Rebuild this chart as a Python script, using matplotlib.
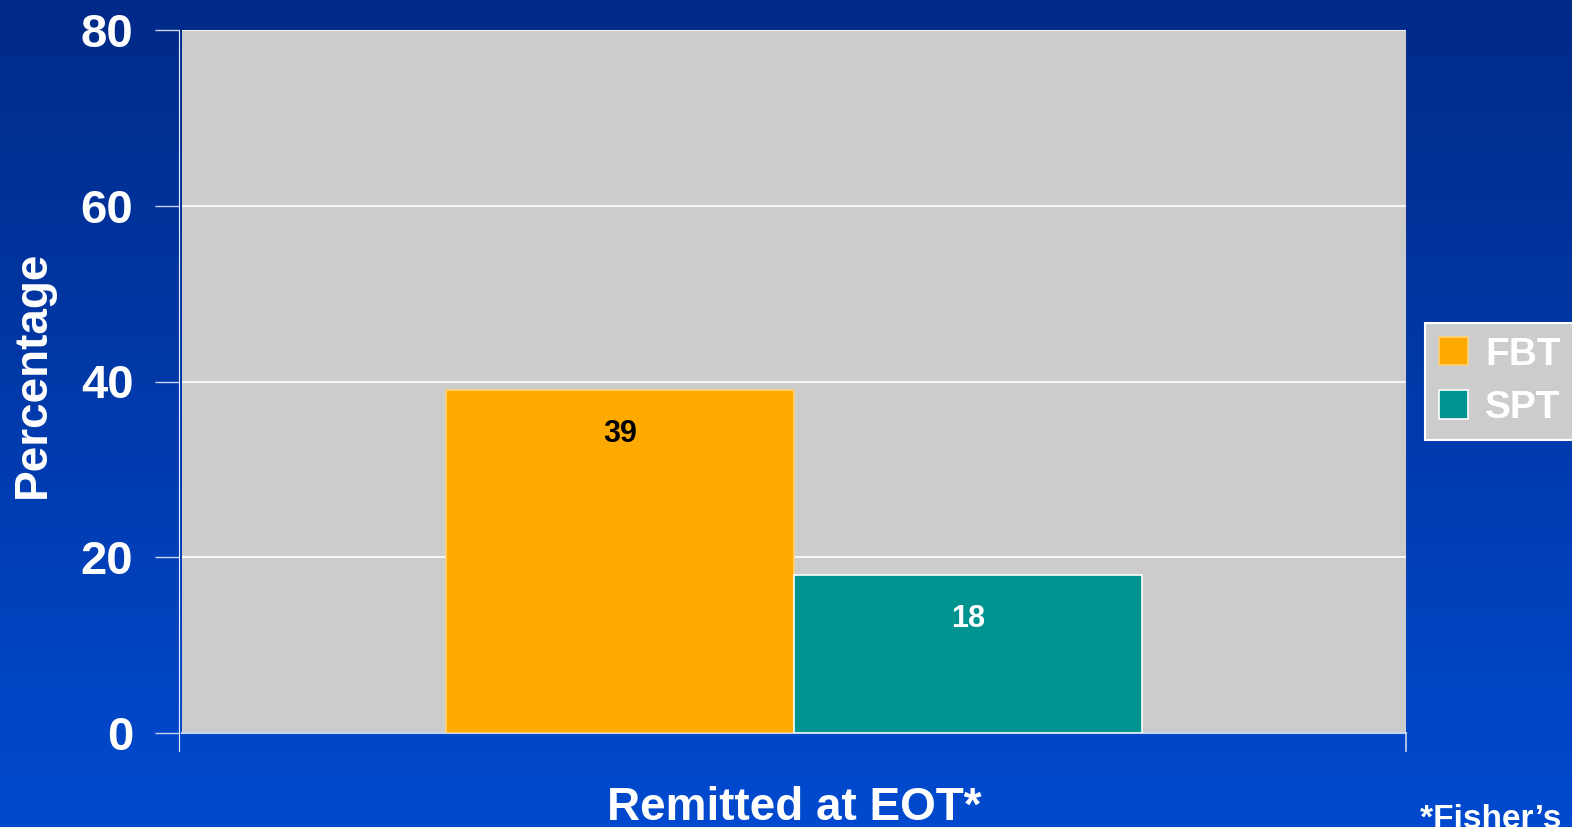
import matplotlib.pyplot as plt
import numpy as np

plt.rcParams['font.family'] = ['Liberation Sans', 'DejaVu Sans']
plt.rcParams['font.weight'] = 'bold'
plt.rcParams['axes.labelweight'] = 'bold'

category = 'Remitted at EOT*'
groups = ['FBT', 'SPT']
values = [39, 18]
colors = ['#ffaa00', '#009490']
edges = ['#ffd27a', '#ffffff']
label_colors = ['black', 'white']
yticks = [0, 20, 40, 60, 80]

fig = plt.figure(figsize=(15.72, 8.27), dpi=100)

# blue gradient backdrop
bg = fig.add_axes([0, 0, 1, 1], zorder=-10)
top = np.array([0x00, 0x2a, 0x88]) / 255
bottom = np.array([0x00, 0x4a, 0xcf]) / 255
t = np.linspace(0, 1, 256)[:, None]
grad = top * (1 - t) + bottom * t
bg.imshow(grad[:, None, :], aspect='auto', extent=[0, 1, 0, 1])
bg.axis('off')

ax = fig.add_axes([182 / 1572, 1 - 733 / 827, 1224 / 1572, 703 / 827])
ax.set_facecolor('#cccccc')

w = 0.284
pos = [-w / 2, w / 2]
for p, v, c, e, g in zip(pos, values, colors, edges, groups):
    ax.bar(p, v, width=w, color=c, edgecolor=e, linewidth=1.2, label=g, zorder=3)

for p, v, lc in zip(pos, values, label_colors):
    ax.text(p, v - 5, str(v), ha='center', va='center', fontsize=22,
            fontweight='bold', color=lc, zorder=4)

ax.set_xlim(-0.5, 0.5)
ax.set_ylim(0, 80)
ax.set_yticks(yticks)
ax.set_xticks([])
ax.yaxis.grid(True, color='white', linewidth=1.2, zorder=0)
ax.set_axisbelow(True)
ax.tick_params(axis='y', length=17, width=1, color='#c8d4f0', pad=16,
               labelsize=34, labelcolor='white')

ax.spines['right'].set_visible(False)
ax.spines['top'].set_visible(False)
ax.spines['left'].set_color('#e8eefc')
ax.spines['left'].set_position(('outward', 2))
ax.spines['left'].set_bounds(-2, 80)
ax.spines['bottom'].set_color('#c8d4f0')
ax.spines['bottom'].set_linewidth(1.5)

# short drop at the right end of the category axis
ax.plot([0.5, 0.5], [0, -2], color='#c8d4f0', lw=1.2, clip_on=False)

ax.set_ylabel('Percentage', fontsize=33, color='white')
ax.yaxis.set_label_coords(-0.104, 0.51)
ax.set_xlabel(category, fontsize=33, color='white', labelpad=38)

leg = fig.legend(loc='upper left', bbox_to_anchor=(1425 / 1572, 1 - 323 / 827),
                 fontsize=28, frameon=True, fancybox=False, framealpha=1,
                 handlelength=0.75, handleheight=0.75, handletextpad=0.45,
                 borderpad=0.35, labelspacing=0.45, borderaxespad=0)
leg.get_frame().set_facecolor('#cccccc')
leg.get_frame().set_edgecolor('white')
leg.get_frame().set_linewidth(1.5)
for txt in leg.get_texts():
    txt.set_color('white')

fig.text(1420 / 1572, 1 - 820 / 827, "*Fisher\u2019s exact test", fontsize=24,
         color='white', fontweight='bold', ha='left', va='center')

fig.savefig('out.png', dpi=100)
